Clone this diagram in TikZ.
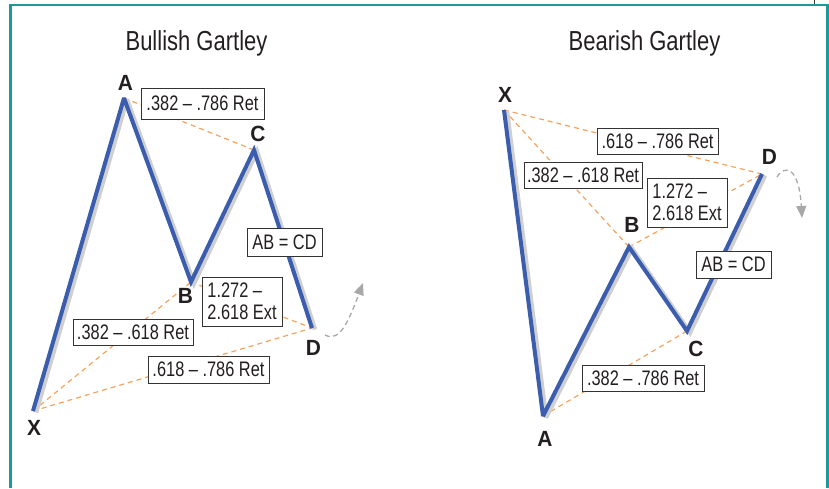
\documentclass[tikz,border=0pt]{standalone}
\usepackage{fontspec}
\setmainfont{Liberation Sans}
\newfontfamily\titlefont{Liberation Sans}[FakeStretch=0.8]
\newfontfamily\boxfont{Liberation Sans}[FakeStretch=0.78]
\newfontfamily\labfont{Liberation Sans}[FakeStretch=0.95]
\usetikzlibrary{arrows.meta}
\definecolor{framet}{HTML}{1C9A98}
\definecolor{wavblue}{HTML}{3A5DAE}
\definecolor{shadowgray}{HTML}{CFCFCF}
\definecolor{ratioorange}{HTML}{F5A25D}
\definecolor{boxgray}{HTML}{333333}
\definecolor{inkc}{HTML}{231F20}
\definecolor{arrowgray}{HTML}{A8A8A8}
\begin{document}
\begin{tikzpicture}[x=1pt,y=-1pt,
  wave/.style={line width=4pt, draw=wavblue, line join=miter, miter limit=3},
  shadow/.style={line width=4.5pt, draw=shadowgray, line join=miter, miter limit=3},
  ratio/.style={draw=ratioorange, dash pattern=on 5pt off 4pt, line width=1.2pt},
  ratbox/.style={draw=boxgray, line width=0.9pt, fill=white, inner sep=0pt, font=\boxfont\fontsize{21}{22.5}\selectfont, text=inkc},
  ptlab/.style={font=\labfont\bfseries\fontsize{22}{22}\selectfont, text=inkc, inner sep=0pt, fill=white},
  ttl/.style={font=\titlefont\fontsize{27.5}{27.5}\selectfont, text=inkc, anchor=base, inner sep=0pt},
  nextmove/.style={draw=arrowgray, dash pattern=on 5pt off 3.5pt, line width=1.3pt, -{Triangle[width=10pt,length=12pt]}}
]
\useasboundingbox (0,0) rectangle (829,488);
% frame
\draw[framet, line width=2.5pt] (10.5,488) -- (10.5,5) -- (827.5,5) -- (827.5,488);
\draw[boxgray, line width=1pt] (814.5,0) -- (814.5,4);

% titles
\node[ttl] (t1) at (196.5,50) {Bullish Gartley};
\node[ttl] (t2) at (644.5,50) {Bearish Gartley};

% ---------------- Bullish ----------------
\coordinate (bX) at (33,411);
\coordinate (bA) at (124,98);
\coordinate (bB) at (191,282);
\coordinate (bC) at (254,150);
\coordinate (bD) at (312,328);

\draw[ratio] (bA) -- (bC);
\draw[ratio] (bX) -- (bB);
\draw[ratio] (bX) -- (bD);
\draw[ratio] (bB) -- (bD);

\node[ptlab] (lbA) at (125.5,83) {A};
\node[ptlab] (lbB) at (185.5,295.5) {B};
\node[ptlab] (lbC) at (258,133.5) {C};
\node[ptlab] (lbD) at (313.5,347.5) {D};
\node[ptlab] (lbX) at (34,428) {X};

\draw[shadow] ([shift={(3,1.5)}]bX) -- ([shift={(3,1.5)}]bA) -- ([shift={(3,1.5)}]bB) -- ([shift={(3,1.5)}]bC) -- ([shift={(3,1.5)}]bD);
\draw[wave] (bX) -- (bA) -- (bB) -- (bC) -- (bD);

\node[ratbox, minimum width=123pt, minimum height=31pt] (b1) at (202.5,103.5) {.382 – .786 Ret};
\node[ratbox, minimum width=75pt, minimum height=28pt] (b2) at (284.5,242) {AB = CD};
\node[ratbox, minimum width=80pt, minimum height=49pt, align=left] (b3) at (242,301.5) {1.272 –\\2.618 Ext};
\node[ratbox, minimum width=120pt, minimum height=26pt] (b4) at (133,332) {.382 – .618 Ret};
\node[ratbox, minimum width=121pt, minimum height=27pt] (b5) at (208.5,369.5) {.618 – .786 Ret};

\coordinate (bn1) at (325,335);
\coordinate (bn2) at (363,283);
\draw[nextmove] (bn1) .. controls (340,343) and (349,320) .. (bn2);

% ---------------- Bearish ----------------
\coordinate (sX) at (504,110);
\coordinate (sA) at (543,416);
\coordinate (sB) at (629,247);
\coordinate (sC) at (687,331);
\coordinate (sD) at (762,174);

\draw[ratio] (sX) -- (sD);
\draw[ratio] (sX) -- (sB);
\draw[ratio] (sB) -- (sD);
\draw[ratio] (sA) -- (sC);

\node[ptlab] (lsX) at (505,95) {X};
\node[ptlab] (lsA) at (545,438.5) {A};
\node[ptlab] (lsB) at (632,225) {B};
\node[ptlab] (lsC) at (696,348.5) {C};
\node[ptlab] (lsD) at (769.5,156.5) {D};

\draw[shadow] ([shift={(3,1.5)}]sX) -- ([shift={(3,1.5)}]sA) -- ([shift={(3,1.5)}]sB) -- ([shift={(3,1.5)}]sC) -- ([shift={(3,1.5)}]sD);
\draw[wave] (sX) -- (sA) -- (sB) -- (sC) -- (sD);

\node[ratbox, minimum width=121pt, minimum height=26pt] (s1) at (657.5,141) {.618 – .786 Ret};
\node[ratbox, minimum width=118pt, minimum height=26pt] (s2) at (583,175) {.382 – .618 Ret};
\node[ratbox, minimum width=80pt, minimum height=49pt, align=left] (s3) at (687,202.5) {1.272 –\\2.618 Ext};
\node[ratbox, minimum width=75pt, minimum height=27pt] (s4) at (733.5,264.5) {AB = CD};
\node[ratbox, minimum width=122pt, minimum height=26pt] (s5) at (643,378) {.382 – .786 Ret};

\coordinate (sn1) at (777,177);
\coordinate (sn2) at (802,218);
\draw[nextmove] (sn1) .. controls (785,164) and (799,167) .. (sn2);
\end{tikzpicture}
\end{document}
